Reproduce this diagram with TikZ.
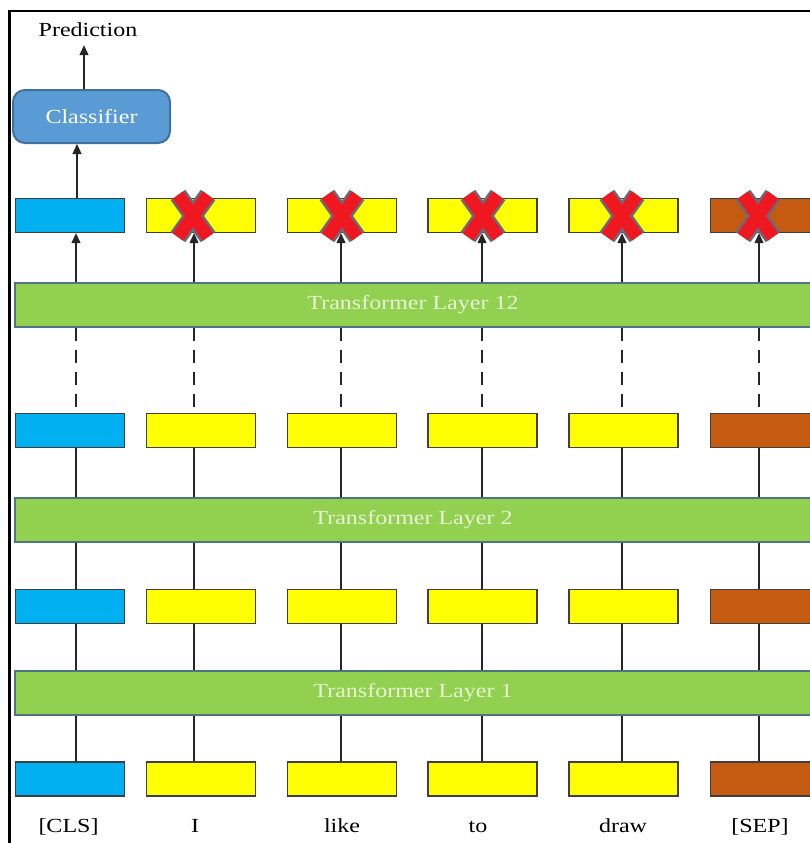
\documentclass[tikz,border=0pt]{standalone}
\usepackage{fontspec}
\setmainfont[FakeStretch=1.2]{Liberation Serif}
\usetikzlibrary{arrows.meta}
\definecolor{cyanbox}{HTML}{00B0F0}
\definecolor{yelbox}{HTML}{FFFF00}
\definecolor{sepboxc}{HTML}{C55A11}
\definecolor{boxline}{HTML}{3F3F3F}
\definecolor{layerfill}{HTML}{92D050}
\definecolor{layerline}{HTML}{52728A}
\definecolor{layertext}{HTML}{EAF3D6}
\definecolor{clsfill}{HTML}{5B9BD5}
\definecolor{clsline}{HTML}{41719C}
\definecolor{xred}{HTML}{F01820}
\definecolor{xgray}{HTML}{6A6A7A}
\begin{document}
\begin{tikzpicture}[x=1pt,y=-1pt,
  every node/.style={font=\fontsize{20}{24}\selectfont, inner sep=0pt},
  tok/.style={draw=boxline, line width=1.3pt, minimum width=109pt, minimum height=34pt},
  clsbox/.style={tok, fill=cyanbox},
  wrdbox/.style={tok, fill=yelbox},
  sepbox/.style={tok, fill=sepboxc},
  layerbar/.style={draw=layerline, fill=layerfill, line width=2pt, minimum width=796pt, minimum height=44pt, text=layertext},
  link/.style={line width=1.2pt, black!85},
  arr/.style={link, -{Triangle[length=10pt,width=9pt]}},
  dashlink/.style={link, dash pattern=on 13pt off 9pt},
  xout/.style={line width=18pt, xgray},
  xin/.style={line width=13pt, xred},
  ]
\useasboundingbox (0,0) rectangle (810,843);
\clip (0,0) rectangle (810,843);
\fill[white] (0,0) rectangle (810,843);

% frame
\draw[line width=2.5pt] (9.5,843) -- (9.5,11) -- (810,11);

% column x positions
\coordinate (x1) at (76,0);
\coordinate (x2) at (194,0);
\coordinate (x3) at (341,0);
\coordinate (x4) at (482,0);
\coordinate (x5) at (622,0);
\coordinate (x6) at (759,0);

% token rows
\foreach \r/\y in {1/779,2/606.5,3/430.5,4/215.5}{
  \node[clsbox] (r\r c1) at (70,\y) {};
  \node[wrdbox] (r\r c2) at (201,\y) {};
  \node[wrdbox] (r\r c3) at (342,\y) {};
  \node[wrdbox] (r\r c4) at (482.5,\y) {};
  \node[wrdbox] (r\r c5) at (623.5,\y) {};
  \node[sepbox] (r\r c6) at (765,\y) {};
}

% transformer layers
\node[layerbar] (L1) at (413,693) {Transformer Layer 1};
\node[layerbar] (L2) at (413,519.5) {Transformer Layer 2};
\node[layerbar] (L12) at (413,305) {Transformer Layer 12};

% classifier and prediction
\node[draw=clsline, fill=clsfill, line width=2pt, rounded corners=12pt,
      minimum width=157pt, minimum height=53pt, text=white] (clf) at (91.5,116.5) {Classifier};
\node[anchor=base, outer ysep=8pt] (pred) at (88,37) {Prediction};
\coordinate (xa) at (77,0);
\coordinate (xb) at (84,0);

% token labels
\node[anchor=base] (w1) at (68.5,832) {[CLS]};
\node[anchor=base] (w2) at (195,832) {I};
\node[anchor=base] (w3) at (342,832) {like};
\node[anchor=base] (w4) at (478,832) {to};
\node[anchor=base] (w5) at (623,832) {draw};
\node[anchor=base] (w6) at (760,832) {[SEP]};

% connectors
\foreach \i in {1,...,6}{
  \draw[link] (r1c\i.north -| x\i) -- (L1.south -| x\i);
  \draw[link] (L1.north -| x\i) -- (r2c\i.south -| x\i);
  \draw[link] (r2c\i.north -| x\i) -- (L2.south -| x\i);
  \draw[link] (L2.north -| x\i) -- (r3c\i.south -| x\i);
  \draw[dashlink] (L12.south -| x\i) -- (r3c\i.north -| x\i);
}

% red crosses
\foreach \cx/\cy in {193/216, 342/216, 483/216, 622/216, 758/216}{
  \draw[xout] (\cx-15,\cy-21) -- (\cx+15,\cy+21);
  \draw[xout] (\cx+15,\cy-21) -- (\cx-15,\cy+21);
  \draw[xin] (\cx-15,\cy-21) -- (\cx+15,\cy+21);
  \draw[xin] (\cx+15,\cy-21) -- (\cx-15,\cy+21);
}

% arrows from layer 12
\foreach \i in {1,...,6}{
  \draw[arr] (L12.north -| x\i) -- (r4c\i.south -| x\i);
}
\draw[arr] (r4c1.north -| xa) -- (clf.south -| xa);
\draw[arr] (clf.north -| xb) -- (pred.south -| xb);
\end{tikzpicture}
\end{document}
